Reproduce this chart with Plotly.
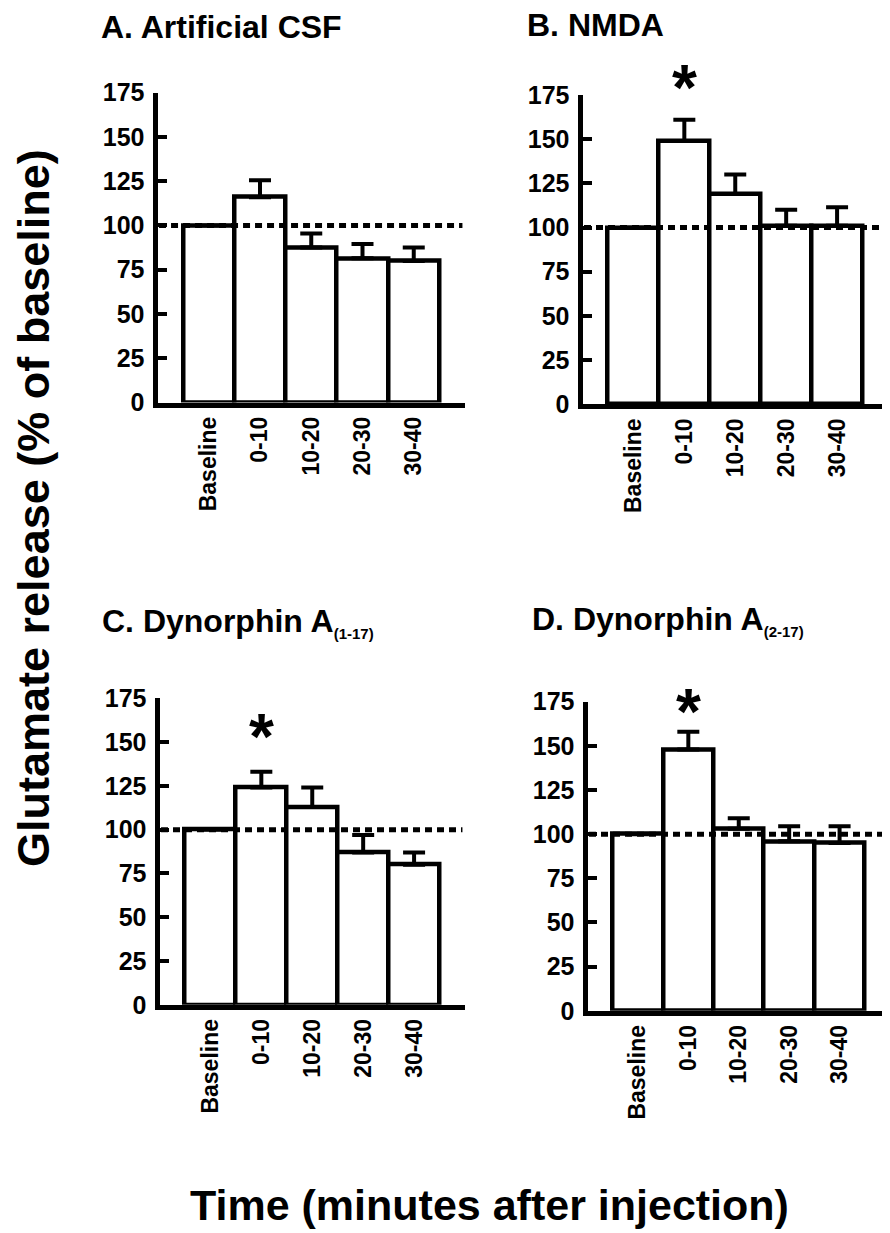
import plotly.graph_objects as go

W, H = 890, 1233
OFF = 8  # page body margin offset compensation

categories = ["Baseline", "0-10", "10-20", "20-30", "30-40"]

# Panel A: Artificial CSF
a_mean = [100, 116, 87.5, 81.5, 80]
a_err = [0, 9.5, 8, 8, 7.5]
# Panel B: NMDA
b_mean = [100, 149, 119, 101, 101]
b_err = [0, 12, 11, 9, 10.5]
# Panel C: Dynorphin A(1-17)
c_mean = [100, 124, 113, 87, 80]
c_err = [0, 9, 11, 10, 7]
# Panel D: Dynorphin A(2-17)
d_mean = [100, 148, 103, 96, 95]
d_err = [0, 10, 6, 8.5, 9.5]

panel_titles = [
    "A. Artificial CSF",
    "B. NMDA",
    "C. Dynorphin A<sub><span style='font-size:15px'>(1-17)</span></sub>",
    "D. Dynorphin A<sub><span style='font-size:15px'>(2-17)</span></sub>",
]
# significance markers: (category, y position) or None
sig_marks = [None, ("0-10", 184), ("0-10", 158), ("0-10", 174)]

y_ticks = [0, 25, 50, 75, 100, 125, 150, 175]
y_max = 175
ref_level = 100

means = [a_mean, b_mean, c_mean, d_mean]
errs = [a_err, b_err, c_err, d_err]

# pixel layout for each panel: (x_left, x_right, y_zero, y_top)
boxes = [
    (155, 465, 405, 92.7),
    (580, 888, 406.7, 95),
    (157, 465, 1007.3, 698.3),
    (585, 890, 1013.3, 701.7),
]
title_pos = [(99, 27), (525, 25), (100, 622), (530, 620)]

FONT = "Liberation Sans, Arial, Helvetica, sans-serif"


def px_x(v):
    return (v - OFF) / W


def px_y(v):
    return 1 - (v - OFF) / H


fig = go.Figure()
layout = dict(
    width=W, height=H, autosize=False,
    margin=dict(l=0, r=0, t=0, b=0, pad=0),
    paper_bgcolor="white", plot_bgcolor="white",
    showlegend=False, bargap=0,
    font=dict(family=FONT, color="black"),
)
shapes = []
annotations = []

for i in range(4):
    n = "" if i == 0 else str(i + 1)
    xl, xr, y0, yt = boxes[i]
    lw = 5
    xd = [px_x(xl + lw / 2), min(1.0, px_x(xr))]
    yd = [px_y(y0 - lw / 2), px_y(yt)]
    fig.add_trace(go.Bar(
        x=categories, y=means[i],
        xaxis="x" + n, yaxis="y" + n,
        marker=dict(color="white", line=dict(color="black", width=4.5)),
        error_y=dict(type="data", array=errs[i], arrayminus=[0] * 5,
                     symmetric=False, color="black", thickness=4, width=11),
        width=1.0,
    ))
    layout["xaxis" + n] = dict(
        domain=xd, anchor="y" + n, type="category", automargin=False,
        range=[-1, 5], showline=True, linecolor="black", linewidth=lw,
        ticks="", showgrid=False, zeroline=False, tickangle=-90,
        tickfont=dict(size=23, weight="bold", family=FONT, color="black"),
        ticklabelstandoff=0, fixedrange=True,
    )
    layout["yaxis" + n] = dict(
        domain=yd, anchor="x" + n, range=[0, y_max], automargin=False,
        tickvals=y_ticks, ticktext=[str(v) for v in y_ticks],
        showline=True, linecolor="black", linewidth=lw,
        ticks="inside", ticklen=9, tickwidth=4, tickcolor="black",
        showgrid=False, zeroline=False,
        tickfont=dict(size=25, weight="bold", family=FONT, color="black"),
        ticklabelstandoff=3, fixedrange=True,
    )
    shapes.append(dict(
        type="line", xref="x" + n, yref="y" + n,
        x0=-0.97, x1=4.95, y0=ref_level, y1=ref_level,
        line=dict(color="black", width=5, dash="7px,5px"), layer="above",
    ))
    tx, ty = title_pos[i]
    annotations.append(dict(
        text=panel_titles[i], xref="paper", yref="paper",
        x=px_x(tx), y=px_y(ty), xanchor="left", yanchor="middle",
        showarrow=False,
        font=dict(size=32, weight="bold", family=FONT, color="black"),
    ))
    if sig_marks[i] is not None:
        cat, yv = sig_marks[i]
        annotations.append(dict(
            text="*", xref="x" + n, yref="y" + n + " domain",
            x=cat, y=yv / y_max,
            xanchor="center", yanchor="middle", showarrow=False, yshift=-9,
            font=dict(size=64, weight="bold", family=FONT, color="black"),
        ))

annotations.append(dict(
    text="Glutamate release (% of baseline)", xref="paper", yref="paper",
    x=px_x(33), y=px_y(508), xanchor="center", yanchor="middle",
    textangle=-90, showarrow=False,
    font=dict(size=45, weight="bold", family=FONT, color="black"),
))
annotations.append(dict(
    text="Time (minutes after injection)", xref="paper", yref="paper",
    x=px_x(489), y=px_y(1205), xanchor="center", yanchor="middle",
    showarrow=False,
    font=dict(size=43, weight="bold", family=FONT, color="black"),
))

layout["shapes"] = shapes
layout["annotations"] = annotations
fig.update_layout(**layout)
fig.write_html("out.html")
